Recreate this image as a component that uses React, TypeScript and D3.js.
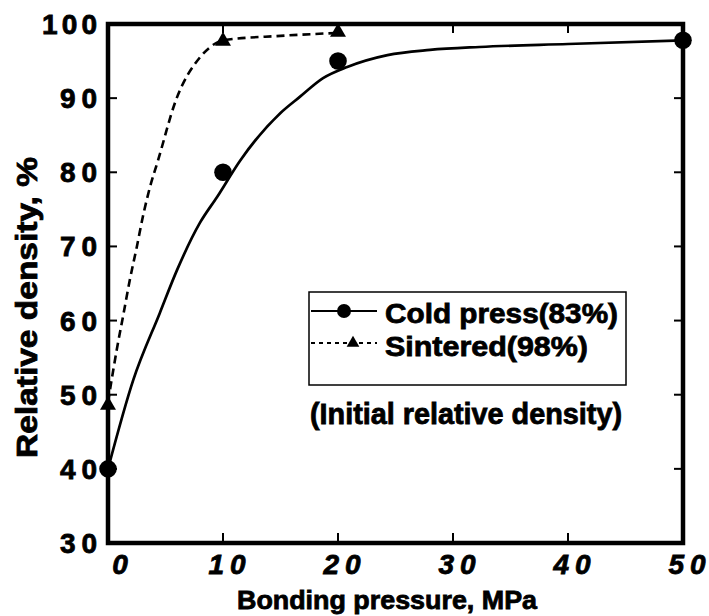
import React from "react";
import * as d3 from "d3";

// Measured data points
const coldX = [0, 10, 20, 50];
const coldY = [40, 80, 95, 97.8];
const sinterX = [0, 10, 20];
const sinterY = [48.6, 97.7, 98.9];

// Fitted curves
const coldCurveX = [0, 2.2, 4.5, 6, 8, 9.5, 11.5, 15, 16.7, 18.7, 20.8, 24.3, 28, 32.3, 40, 50];
const coldCurveY = [40, 52, 61, 66.8, 73.2, 76.7, 81.6, 88, 90.2, 92.7, 94.2, 95.8, 96.5, 96.9, 97.3, 97.8];
const sinterCurveX = [0, 0.8, 1.3, 1.9, 2.5, 3.1, 3.65, 4.35, 5.9, 8.0, 8.9, 10, 15, 20];
const sinterCurveY = [49, 56.4, 60.5, 65.5, 69.9, 74.5, 78.0, 81.6, 89.7, 95.5, 96.9, 97.8, 98.4, 98.8];

const xTickValues = [0, 10, 20, 30, 40, 50];
const yTickValues = [30, 40, 50, 60, 70, 80, 90, 100];
const legendLabels = ["Cold press(83%)", "Sintered(98%)"];
const noteText = "(Initial relative density)";
const xTitle = "Bonding pressure, MPa";
const yTitle = "Relative density, %";

const FONT = "'Liberation Sans', Arial, Helvetica, sans-serif";
const BOLD = { fontWeight: "bold" as const, stroke: "#000", strokeWidth: 0.8, paintOrder: "stroke" as const };

export default function App() {
  const W = 709, H = 616;
  const x = d3.scaleLinear().domain([0, 50]).range([108, 683]);
  const y = d3.scaleLinear().domain([30, 100]).range([543, 24]);

  const line = d3
    .line<[number, number]>()
    .x((d) => x(d[0]))
    .y((d) => y(d[1]))
    .curve(d3.curveMonotoneX);

  const coldPath = line(coldCurveX.map((v, i) => [v, coldCurveY[i]]) as [number, number][]) || "";
  const sinterPath = line(sinterCurveX.map((v, i) => [v, sinterCurveY[i]]) as [number, number][]) || "";
  const tri = d3.symbol(d3.symbolTriangle, 110)() || "";
  const triSmall = d3.symbol(d3.symbolTriangle, 70)() || "";

  const [x0, x1] = x.range();
  const [y0, y1] = y.range();

  return (
    <svg
      width={W}
      height={H}
      style={{ position: "absolute", left: 0, top: 0, background: "#fff" }}
      fontFamily={FONT}
    >
      <rect x={0} y={0} width={W} height={H} fill="#fff" />

      {/* curves */}
      <path d={sinterPath} fill="none" stroke="#000" strokeWidth={2.6} strokeDasharray="8,5" />
      <path d={coldPath} fill="none" stroke="#000" strokeWidth={2.7} />

      {/* frame */}
      <rect x={x0} y={y1} width={x1 - x0} height={y0 - y1} fill="none" stroke="#000" strokeWidth={4.5} />

      {/* y ticks (left and right, inward) */}
      {yTickValues.filter((v) => v > 30 && v < 100).map((v) => (
        <g key={"yt" + v}>
          <line x1={x0} x2={x0 + 9} y1={y(v)} y2={y(v)} stroke="#000" strokeWidth={2} />
          <line x1={x1} x2={x1 - 9} y1={y(v)} y2={y(v)} stroke="#000" strokeWidth={2} />
        </g>
      ))}
      {/* x ticks (bottom and top, inward) */}
      {xTickValues.filter((v) => v > 0 && v < 50).map((v) => (
        <g key={"xt" + v}>
          <line x1={x(v)} x2={x(v)} y1={y0} y2={y0 - 10} stroke="#000" strokeWidth={2} />
          <line x1={x(v)} x2={x(v)} y1={y1} y2={y1 + 9} stroke="#000" strokeWidth={2} />
        </g>
      ))}

      {/* y tick labels */}
      {yTickValues.map((v) => {
        const s = String(v);
        const len = s.length === 3 ? 55 : 37;
        return (
          <text
            key={"yl" + v}
            x={97 - len}
            y={y(v) + 10}
            fontSize={28}
            {...BOLD}
            textLength={len}
            lengthAdjust="spacing"
          >
            {s}
          </text>
        );
      })}

      {/* x tick labels */}
      {xTickValues.map((v) => {
        const s = String(v);
        const cx = x(v) + (v === 0 ? 12 : 4);
        if (s.length === 1) {
          return (
            <text key={"xl" + v} x={cx} y={574} fontSize={28} {...BOLD} fontStyle="italic" textAnchor="middle">
              {s}
            </text>
          );
        }
        const len = 37;
        return (
          <text
            key={"xl" + v}
            x={cx - len / 2}
            y={574}
            fontSize={28}
            {...BOLD}
            fontStyle="italic"
            textLength={len}
            lengthAdjust="spacing"
          >
            {s}
          </text>
        );
      })}

      {/* axis titles */}
      <text x={237} y={609} fontSize={26} {...BOLD} textLength={300} lengthAdjust="spacingAndGlyphs">
        {xTitle}
      </text>
      <text
        transform={`translate(37,458) rotate(-90)`}
        x={0}
        y={0}
        fontSize={29}
        {...BOLD}
        textLength={301}
        lengthAdjust="spacingAndGlyphs"
      >
        {yTitle}
      </text>

      {/* data markers */}
      {sinterX.map((v, i) => (
        <path key={"s" + i} d={tri} transform={`translate(${x(v)},${y(sinterY[i])})`} fill="#000" />
      ))}
      {coldX.map((v, i) => (
        <circle key={"c" + i} cx={x(v)} cy={y(coldY[i])} r={8.8} fill="#000" />
      ))}

      {/* legend */}
      <rect x={309} y={292} width={317} height={93} fill="#fff" stroke="#000" strokeWidth={1.5} />
      <line x1={311} x2={377} y1={311} y2={311} stroke="#000" strokeWidth={2} />
      <circle cx={344} cy={311} r={7} fill="#000" />
      <text x={385} y={323} fontSize={28} {...BOLD} textLength={233} lengthAdjust="spacingAndGlyphs">
        {legendLabels[0]}
      </text>
      <line x1={311} x2={377} y1={343} y2={343} stroke="#000" strokeWidth={1.8} strokeDasharray="4,4" />
      <path d={triSmall} transform="translate(353,343)" fill="#000" />
      <text x={385} y={356} fontSize={28} {...BOLD} textLength={203} lengthAdjust="spacingAndGlyphs">
        {legendLabels[1]}
      </text>
      <text x={310} y={424} fontSize={29} {...BOLD} textLength={312} lengthAdjust="spacingAndGlyphs">
        {noteText}
      </text>
    </svg>
  );
}
